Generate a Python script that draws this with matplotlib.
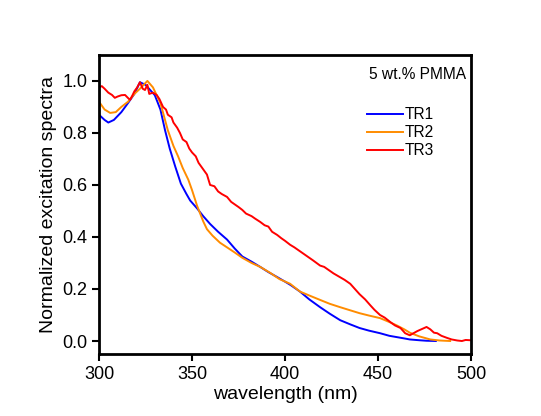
import matplotlib
matplotlib.use("Agg")
import matplotlib.pyplot as plt

plt.rcParams['font.family'] = ['Liberation Sans', 'DejaVu Sans']

# TR1 (blue)
wl1 = [300, 303, 305, 308, 312, 315.6, 319, 322, 325, 330, 333, 335.5, 338, 341, 344, 347, 349, 352.7,
       356, 359.7, 364, 368.8, 373, 377, 382, 386.6, 391, 395.7, 400, 403, 408, 413, 418.8, 424, 429.6,
       435, 440, 445, 451, 456, 460, 464, 467, 472, 476, 481]
v1 = [0.87, 0.85, 0.84, 0.85, 0.88, 0.915, 0.95, 0.995, 0.985, 0.945, 0.89, 0.81, 0.74, 0.67, 0.605,
      0.565, 0.54, 0.51, 0.48, 0.45, 0.42, 0.39, 0.355, 0.325, 0.305, 0.285, 0.265, 0.246, 0.228, 0.215,
      0.19, 0.16, 0.13, 0.105, 0.08, 0.064, 0.05, 0.04, 0.03, 0.02, 0.015, 0.01, 0.006, 0.003, 0.001, 0.0]

# TR2 (orange)
wl2 = [300, 303, 306, 309, 312, 315.6, 319, 322, 326, 329, 333, 337, 340, 342.5, 345, 348, 350, 352.7,
       356, 358, 361, 365, 368.8, 373, 377, 382, 386.6, 392, 397, 402.7, 408, 413, 418.8, 424, 429.6,
       435, 440, 445, 451, 456, 460, 464, 467, 472, 478, 483, 488.7]
v2 = [0.92, 0.89, 0.877, 0.88, 0.90, 0.92, 0.95, 0.97, 1.0, 0.975, 0.915, 0.81, 0.75, 0.71, 0.665,
      0.62, 0.58, 0.52, 0.46, 0.43, 0.405, 0.378, 0.36, 0.34, 0.32, 0.30, 0.285, 0.262, 0.238, 0.22,
      0.19, 0.175, 0.158, 0.143, 0.13, 0.118, 0.107, 0.098, 0.088, 0.073, 0.06, 0.045, 0.032, 0.018,
      0.006, 0.002, 0.0]

# TR3 (red)
wl3 = [300, 301.5, 303, 305, 307, 308.5, 310, 312, 314, 315.5,
       316.7, 318, 319, 320.5, 322, 323.5, 324.7, 326, 327, 329,
       331, 332.5, 334.4, 336, 337, 339, 340, 342, 343.5, 345,
       347, 348.5, 350, 352, 353.5, 355, 356.5, 358, 359.7, 362,
       364, 366, 368.8, 371, 373, 375, 377, 379, 382, 384,
       386.6, 389, 391, 393, 395.7, 398, 400, 402.7, 405, 408,
       410, 413, 415, 418.8, 421, 424, 426, 429.6, 432, 435,
       437.5, 440, 443, 445.7, 448, 451, 453.5, 456.5, 459, 462,
       464.5, 467, 469, 471, 473.5, 476, 478, 480, 481.7, 484,
       487, 489.5, 492.5, 495, 497, 499.5]
v3 = [0.975, 0.98, 0.97, 0.955, 0.946, 0.935, 0.94, 0.945, 0.946, 0.935,
      0.927, 0.945, 0.96, 0.975, 0.995, 0.97, 0.965, 0.985, 0.95, 0.955,
      0.946, 0.93, 0.90, 0.89, 0.87, 0.86, 0.84, 0.82, 0.80, 0.775,
      0.765, 0.74, 0.725, 0.71, 0.685, 0.67, 0.655, 0.64, 0.60, 0.595,
      0.575, 0.565, 0.554, 0.535, 0.525, 0.515, 0.504, 0.49, 0.48, 0.47,
      0.458, 0.445, 0.44, 0.42, 0.408, 0.395, 0.385, 0.37, 0.36, 0.345,
      0.335, 0.32, 0.31, 0.29, 0.285, 0.27, 0.26, 0.245, 0.235, 0.22,
      0.20, 0.18, 0.16, 0.138, 0.12, 0.10, 0.09, 0.073, 0.06, 0.05,
      0.03, 0.022, 0.03, 0.038, 0.046, 0.054, 0.045, 0.032, 0.03, 0.02,
      0.012, 0.006, 0.002, 0.0, 0.004, 0.003]

labels = ["TR1", "TR2", "TR3"]
colors = ["#0000ff", "#ff8c00", "#ff0000"]

fig = plt.figure(figsize=(5.41, 4.16), dpi=100)
ax = fig.add_axes([0.183, 0.149, 0.688, 0.719])
for wl, v, lab, c in zip([wl1, wl2, wl3], [v1, v2, v3], labels, colors):
    ax.plot(wl, v, color=c, lw=1.4, label=lab)

ax.set_xlim(300, 500)
ax.set_ylim(-0.05, 1.1)
ax.set_xticks([300, 350, 400, 450, 500])
ax.set_yticks([0.0, 0.2, 0.4, 0.6, 0.8, 1.0])
ax.set_yticklabels(["0.0", "0.2", "0.4", "0.6", "0.8", "1.0"])
ax.tick_params(direction='out', length=5, width=1.5, labelsize=13, top=False, right=False)
for s in ax.spines.values():
    s.set_linewidth(2)
ax.set_xlabel("wavelength (nm)", fontsize=14, labelpad=2)
ax.set_ylabel("Normalized excitation spectra", fontsize=14, labelpad=4)
ax.text(0.987, 0.933, "5 wt.% PMMA", transform=ax.transAxes, ha='right', va='center', fontsize=11.2)
ax.legend(loc='upper left', bbox_to_anchor=(0.72, 0.825), frameon=False, fontsize=11.2,
          handlelength=2.3, handletextpad=0.15, labelspacing=0.2, borderaxespad=0, borderpad=0)

fig.savefig("out.png", dpi=100)
